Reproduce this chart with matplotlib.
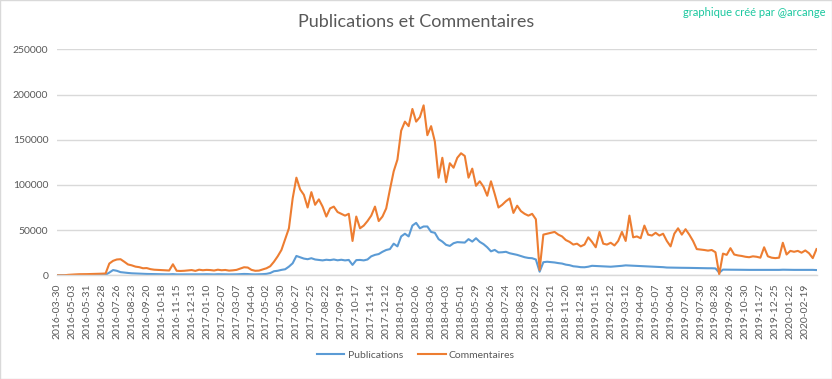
import matplotlib.pyplot as plt
import numpy as np
from matplotlib.patches import Rectangle

plt.rcParams['font.family'] = ['Lato', 'DejaVu Sans']

# category axis: one label every 28 categories
date_labels = ['2016-03-30', '2016-05-03', '2016-05-31', '2016-06-28', '2016-07-26', '2016-08-23',
               '2016-09-20', '2016-10-18', '2016-11-15', '2016-12-13', '2017-01-10', '2017-02-07',
               '2017-03-07', '2017-04-04', '2017-05-02', '2017-05-30', '2017-06-27', '2017-07-25',
               '2017-08-22', '2017-09-19', '2017-10-17', '2017-11-14', '2017-12-12', '2018-01-09',
               '2018-02-06', '2018-03-06', '2018-04-03', '2018-05-01', '2018-05-29', '2018-06-26',
               '2018-07-24', '2018-08-23', '2018-09-22', '2018-10-21', '2018-11-20', '2018-12-18',
               '2019-01-15', '2019-02-12', '2019-03-12', '2019-04-09', '2019-05-07', '2019-06-04',
               '2019-07-02', '2019-07-30', '2019-08-28', '2019-09-26', '2019-10-30', '2019-11-27',
               '2019-12-25', '2020-01-22', '2020-02-19']
label_every = 28
n_days = 1422
step = 7  # one value read every 7 categories

# values in thousands
publications = [
    0, 0, 0, 0, 0.1, 0.2, 0.2, 0.3, 0.3, 0.3,
    0.4, 0.4, 0.5, 0.6, 3.0, 5.8, 5.0, 3.5, 3.0, 2.6,
    2.2, 2.0, 1.8, 1.6, 1.5, 1.4, 1.3, 1.2, 1.2, 1.1,
    1.1, 1.3, 1.0, 1.0, 1.0, 1.0, 1.1, 1.0, 1.1, 1.1,
    1.2, 1.1, 1.0, 1.2, 1.1, 1.1, 1.0, 1.0, 1.1, 1.3,
    1.5, 1.4, 1.1, 1.0, 1.1, 1.3, 1.6, 2.5, 4.5, 5.0,
    6.0, 6.7, 9.6, 13.3, 21.4, 20.0, 18.5, 17.8, 18.9, 17.5,
    17.0, 16.5, 17.2, 16.8, 17.5, 16.6, 17.2, 16.5, 17.0, 11.5,
    16.8, 17.0, 16.5, 17.5, 21.0, 22.6, 23.5, 26.0, 28.0, 29.0,
    35.0, 32.0, 43.0, 46.0, 43.0, 55.0, 58.0, 52.0, 54.0, 54.0,
    48.0, 47.0, 40.0, 37.3, 33.7, 32.5, 35.5, 36.7, 36.5, 36.2,
    40.0, 37.3, 41.0, 37.0, 34.5, 31.0, 26.5, 28.1, 25.3, 25.5,
    26.0, 24.4, 23.5, 22.6, 21.3, 20.0, 19.2, 18.9, 17.5, 4.0,
    14.5, 15.0, 14.6, 14.2, 13.5, 13.0, 11.8, 11.2, 10.0, 9.6,
    9.0, 8.9, 9.5, 10.5, 10.3, 10.0, 9.8, 9.6, 9.5, 9.8,
    10.2, 10.5, 11.0, 10.8, 10.5, 10.3, 10.2, 10.0, 9.8, 9.6,
    9.4, 9.2, 9.0, 8.6, 8.5, 8.5, 8.4, 8.3, 8.3, 8.2,
    8.1, 8.0, 7.9, 7.9, 7.8, 7.8, 7.6, 2.9, 6.3, 6.2,
    6.2, 6.2, 6.1, 6.1, 6.0, 6.0, 6.0, 6.1, 6.0, 6.1,
    6.0, 6.0, 6.0, 6.0, 6.2, 6.1, 6.0, 6.0, 6.0, 6.1,
    6.0, 6.0, 6.0, 5.8]

commentaires = [
    0, 0, 0, 0.5, 0.8, 1.0, 1.2, 1.2, 1.3, 1.4,
    1.5, 1.5, 1.8, 2.0, 13.0, 16.0, 17.5, 17.8, 15.0, 12.0,
    11.0, 9.6, 9.0, 7.8, 8.0, 6.8, 6.2, 6.0, 5.8, 5.5,
    5.3, 12.2, 5.0, 4.8, 5.0, 5.4, 5.8, 4.9, 6.2, 5.6,
    6.0, 5.8, 5.3, 6.2, 5.6, 5.9, 5.2, 5.5, 6.0, 7.5,
    8.9, 8.6, 6.0, 5.0, 5.2, 6.5, 7.8, 10.0, 15.0, 21.0,
    28.0, 40.0, 52.0, 85.0, 108.0, 95.0, 89.0, 75.0, 92.0, 78.0,
    84.0, 76.0, 65.0, 74.0, 76.0, 70.0, 68.0, 66.0, 68.0, 38.0,
    65.0, 52.0, 55.0, 60.0, 66.0, 76.0, 60.0, 65.0, 74.0, 95.0,
    115.0, 128.0, 160.0, 170.0, 165.0, 184.0, 170.0, 175.0, 188.0, 155.0,
    165.0, 148.0, 108.0, 130.0, 103.0, 124.0, 119.0, 130.0, 135.0, 132.0,
    108.0, 118.0, 99.0, 104.0, 98.0, 88.0, 104.0, 90.0, 75.0, 78.0,
    82.0, 85.0, 69.0, 77.0, 71.0, 68.0, 66.0, 68.0, 62.0, 6.0,
    45.0, 46.0, 47.0, 48.0, 45.0, 43.0, 39.0, 37.0, 34.0, 35.0,
    32.0, 34.0, 42.0, 37.0, 31.0, 48.0, 35.0, 34.0, 36.0, 33.0,
    38.0, 48.0, 38.0, 66.0, 42.0, 43.0, 41.0, 55.0, 45.0, 44.0,
    47.0, 44.0, 46.0, 38.0, 32.0, 46.0, 52.0, 45.0, 51.0, 45.0,
    38.0, 29.0, 28.5, 28.0, 27.3, 28.0, 25.5, 1.0, 24.0, 22.6,
    30.0, 23.0, 22.0, 21.4, 20.5, 20.0, 21.0, 20.5, 19.5, 31.0,
    21.0, 19.5, 19.0, 19.5, 36.0, 23.0, 27.0, 26.0, 27.0, 25.0,
    27.5, 24.4, 19.0, 29.0]

grey_text = '#595959'
grid_col = '#D9D9D9'

x = np.arange(len(publications)) * step
pub = np.array(publications) * 1000
com = np.array(commentaires) * 1000

fig = plt.figure(figsize=(8.32, 3.79), dpi=100)
ax = fig.add_axes([0.0681, 0.2736, 0.9136, 0.5963])

ax.plot(x, pub, color='#5B9BD5', lw=1.5, label='Publications', solid_joinstyle='round')
ax.plot(x, com, color='#ED7D31', lw=1.5, label='Commentaires', solid_joinstyle='round')

ax.set_xlim(-0.5, n_days - 0.5)
ax.set_ylim(0, 250000)
ax.set_yticks(np.arange(0, 250001, 50000))
ax.set_yticklabels([str(v) for v in range(0, 250001, 50000)], fontsize=7.5, color=grey_text)
ax.set_xticks(np.arange(len(date_labels)) * label_every)
ax.set_xticklabels(date_labels, rotation=90, fontsize=7.5, color=grey_text)
ax.tick_params(length=0)
ax.tick_params(axis='x', pad=6)
ax.tick_params(axis='y', pad=6)

ax.grid(axis='y', color=grid_col, lw=1)
ax.set_axisbelow(True)
for s in ['top', 'right', 'left']:
    ax.spines[s].set_visible(False)
ax.spines['bottom'].set_color(grid_col)
ax.spines['bottom'].set_linewidth(1)

fig.text(0.5, 0.942, 'Publications et Commentaires', ha='center', va='center',
         fontsize=13, color=grey_text)
fig.text(0.992, 0.966, 'graphique créé par @arcange', ha='right', va='center',
         fontsize=8, color='#19C79E')

fig.legend(loc='center', bbox_to_anchor=(0.5, 0.063), ncol=2, frameon=False,
           fontsize=7.5, labelcolor=grey_text, handlelength=2.6, columnspacing=1.5,
           handletextpad=0.3)

fig.patches.append(Rectangle((0.0006, 0.0013), 0.9988, 0.9974, transform=fig.transFigure,
                             fill=False, edgecolor=grid_col, lw=1))

fig.savefig('out.png', dpi=100)
